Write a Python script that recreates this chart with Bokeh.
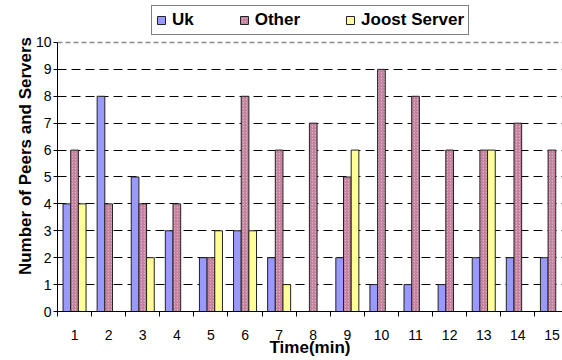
from bokeh.plotting import figure
from bokeh.models import Range1d, FixedTicker, Span, Legend, LegendItem, ColumnDataSource
from bokeh.transform import dodge
from bokeh.embed import file_html
from bokeh.resources import INLINE

# Peers and servers seen per minute
minutes = list(range(1, 16))
uk = [4, 8, 5, 3, 2, 3, 2, 0, 2, 1, 1, 1, 2, 2, 2]
other = [6, 4, 4, 4, 2, 8, 6, 7, 5, 9, 8, 6, 6, 7, 6]
joost = [4, 0, 2, 0, 3, 3, 1, 0, 6, 0, 0, 0, 6, 0, 0]
y_ticks = list(range(0, 11))

src = ColumnDataSource(dict(minute=minutes, uk=uk, other=other, joost=joost))

FONT = "Liberation Sans"

# frame runs to the top edge; the extra headroom above 10 holds the legend
p = figure(width=562, height=360, output_backend="svg", toolbar_location=None,
           x_range=Range1d(0.5, 15.31), y_range=Range1d(0, 11.56),
           min_border_left=57, min_border_right=0, min_border_top=0,
           min_border_bottom=49)
p.outline_line_color = None
p.background_fill_color = "white"
p.border_fill_color = "white"

# grid
p.xgrid.visible = False
p.ygrid.ticker = FixedTicker(ticks=list(range(1, 10)))
p.ygrid.grid_line_color = "#000000"
p.ygrid.grid_line_dash = "9 5"
p.ygrid.grid_line_width = 1
p.add_layout(Span(location=10, dimension="width", line_color="#8a8a8a",
                  line_dash="5 3", line_width=1.5, level="underlay"))

bar_w = 0.225
line_kw = dict(line_color="#222222", line_width=1)
r_uk = p.vbar(x=dodge("minute", -bar_w, range=p.x_range), top="uk", width=bar_w,
              source=src, fill_color="#9999FF", **line_kw)
r_other = p.vbar(x=dodge("minute", 0, range=p.x_range), top="other", width=bar_w,
                 source=src, fill_color="#DDB0C0", hatch_pattern="/",
                 hatch_color="#993366", hatch_scale=3, hatch_weight=1,
                 hatch_alpha=0.55, **line_kw)
r_joost = p.vbar(x=dodge("minute", bar_w, range=p.x_range), top="joost", width=bar_w,
                 source=src, fill_color="#FFFF99", **line_kw)

# axes
xa = p.xaxis[0]
xa.ticker = FixedTicker(ticks=minutes, minor_ticks=[m - 0.5 for m in minutes] + [15.5])
xa.major_tick_line_color = None
xa.major_tick_out = 0
xa.minor_tick_out = 5
xa.minor_tick_in = 0
xa.minor_tick_line_color = "black"
xa.axis_line_color = "black"
xa.major_label_text_font = FONT
xa.major_label_text_font_size = "14px"
xa.major_label_text_color = "black"
xa.major_label_standoff = 13
xa.axis_label = "Time(min)"
xa.axis_label_text_font = FONT
xa.axis_label_text_font_style = "bold"
xa.axis_label_text_font_size = "17px"
xa.axis_label_text_color = "black"
xa.axis_label_standoff = -5

ya = p.yaxis[0]
ya.ticker = FixedTicker(ticks=y_ticks)
ya.bounds = (0, 10)
ya.major_tick_out = 4
ya.major_tick_in = 0
ya.minor_tick_line_color = None
ya.axis_line_color = "black"
ya.major_tick_line_color = "black"
ya.major_label_text_font = FONT
ya.major_label_text_font_size = "14px"
ya.major_label_text_color = "black"
ya.major_label_standoff = 2
ya.axis_label = "Number of Peers and Servers"
ya.axis_label_text_font = FONT
ya.axis_label_text_font_style = "bold"
ya.axis_label_text_font_size = "17px"
ya.axis_label_text_color = "black"
ya.axis_label_standoff = -2

legend = Legend(items=[LegendItem(label="Uk", renderers=[r_uk]),
                       LegendItem(label="Other", renderers=[r_other]),
                       LegendItem(label="Joost Server", renderers=[r_joost])],
                orientation="horizontal", location=(94, 276),
                glyph_width=10, glyph_height=10, label_standoff=6,
                label_height=16, padding=4, spacing=45, margin=0,
                label_text_font=FONT, label_text_font_style="bold",
                label_text_font_size="17px", label_text_color="black",
                border_line_color="black", border_line_width=1,
                background_fill_color="white", background_fill_alpha=1)
p.add_layout(legend, "center")

open("out.html", "w").write(file_html(p, INLINE))
